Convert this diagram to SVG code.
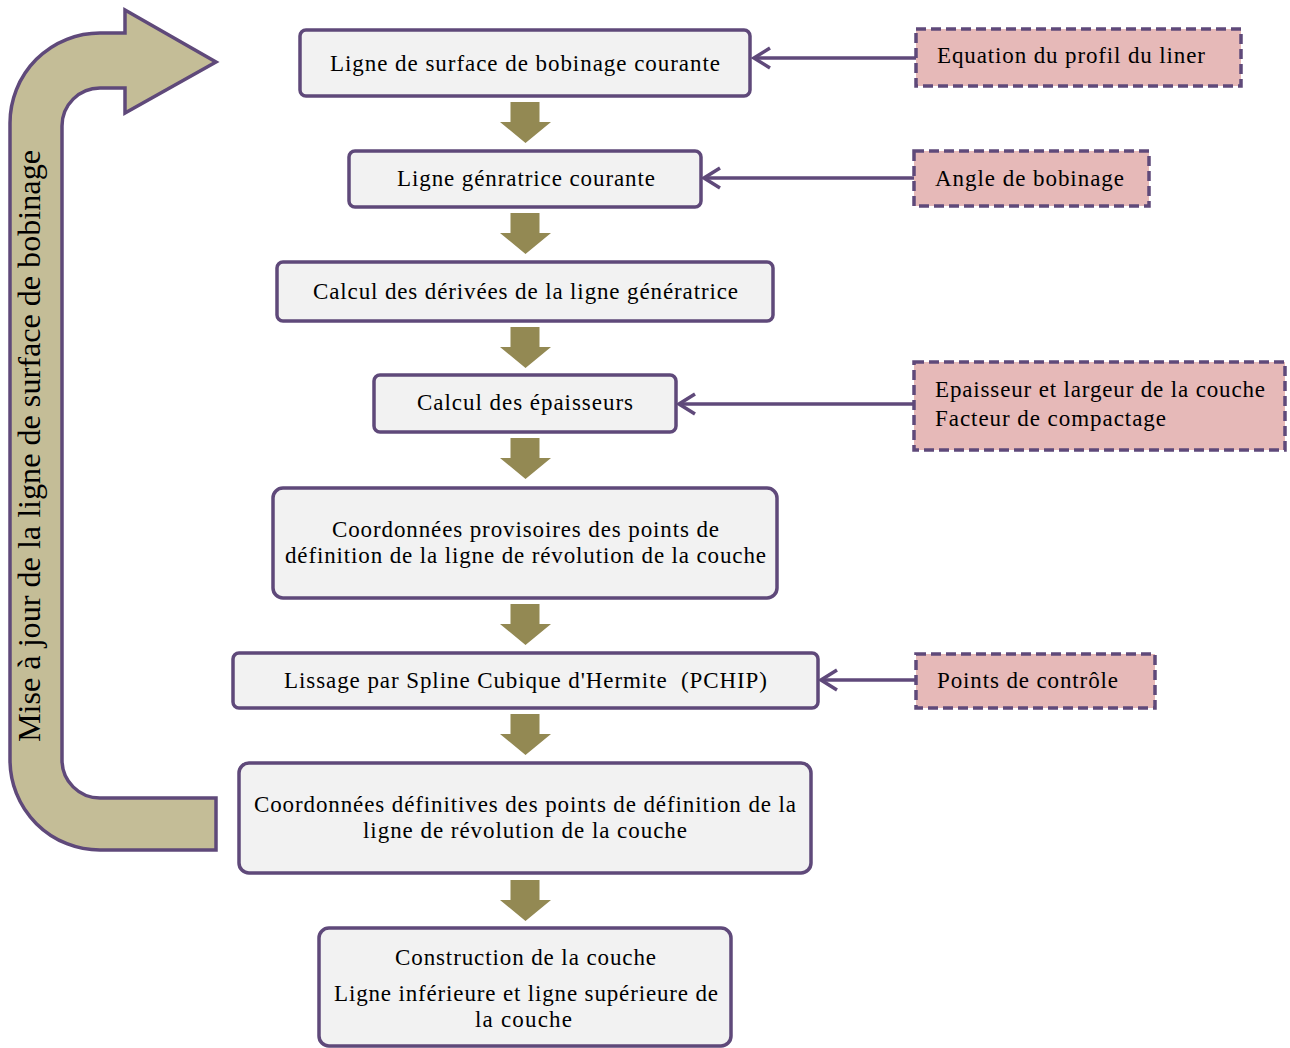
<svg xmlns="http://www.w3.org/2000/svg" width="1290" height="1048" viewBox="0 0 1290 1048">
<style>
.box{fill:#f2f2f2;stroke:#5f497a;stroke-width:3.5}
.side{fill:#e6b9b8;stroke:#5f497a;stroke-width:3.5;stroke-dasharray:10 5}
.t{font-family:"Liberation Serif",serif;font-size:23px;fill:#000}
.c{text-anchor:middle}
.conn{stroke:#5f497a;stroke-width:3.5;fill:none}
.blk{fill:#938953}
</style>
<defs>
<marker id="chev" viewBox="0 0 22 26" refX="19" refY="13" markerWidth="22" markerHeight="26" markerUnits="userSpaceOnUse" orient="auto">
<path d="M3 3 L19 13 L3 23" fill="none" stroke="#5f497a" stroke-width="3.5"/>
</marker>
<path id="barrow" d="M-14.5 0 H14.5 V20 H26 L0.5 41 L-25 20 H-14.5 Z"/>
</defs>
<rect width="1290" height="1048" fill="#fff"/>

<g id="loop-arrow">
<path d="M216 798 L100 798 A38 38 0 0 1 62 760 L62 126 A38 38 0 0 1 100 88 L125 88 L125 113 L216 62 L125 10 L125 33 L100 33 A90 90 0 0 0 10 123 L10 760 A90 90 0 0 0 100 850 L216 850 Z" fill="#c4bd97" stroke="#5f497a" stroke-width="3.5" stroke-linejoin="miter"/>
<text class="t c" transform="translate(40,446) rotate(-90)" style="font-size:31px" textLength="592" lengthAdjust="spacingAndGlyphs">Mise à jour de la ligne de surface de bobinage</text>
</g>

<g id="connectors">
<line class="conn" x1="916" y1="58" x2="754" y2="58" marker-end="url(#chev)"/>
<line class="conn" x1="914" y1="178" x2="704" y2="178" marker-end="url(#chev)"/>
<line class="conn" x1="914" y1="404" x2="679" y2="404" marker-end="url(#chev)"/>
<line class="conn" x1="916" y1="680" x2="821" y2="680" marker-end="url(#chev)"/>
<g class="blk">
<use href="#barrow" x="525" y="102"/>
<use href="#barrow" x="525" y="213"/>
<use href="#barrow" x="525" y="327"/>
<use href="#barrow" x="525" y="438"/>
<use href="#barrow" x="525" y="604"/>
<use href="#barrow" x="525" y="714"/>
<use href="#barrow" x="525" y="880"/>
</g>
</g>

<g id="n1">
<rect class="box" x="300" y="30" width="450" height="66" rx="6"/>
<text class="t c" x="525" y="71" textLength="390" lengthAdjust="spacing">Ligne de surface de bobinage courante</text>
</g>
<g id="n2">
<rect class="box" x="349" y="151" width="352" height="56" rx="6"/>
<text class="t c" x="526" y="186" textLength="258" lengthAdjust="spacing">Ligne génratrice courante</text>
</g>
<g id="n3">
<rect class="box" x="277" y="262" width="496" height="59" rx="6"/>
<text class="t c" x="525.5" y="299" textLength="425" lengthAdjust="spacing">Calcul des dérivées de la ligne génératrice</text>
</g>
<g id="n4">
<rect class="box" x="374" y="375" width="302" height="57" rx="6"/>
<text class="t c" x="525" y="410" textLength="216" lengthAdjust="spacing">Calcul des épaisseurs</text>
</g>
<g id="n5">
<rect class="box" x="273" y="488" width="504" height="110" rx="10"/>
<text class="t c" x="525.5" y="537" textLength="387" lengthAdjust="spacing">Coordonnées provisoires des points de</text>
<text class="t c" x="525.5" y="563" textLength="481" lengthAdjust="spacing">définition de la ligne de révolution de la couche</text>
</g>
<g id="n6">
<rect class="box" x="233" y="653" width="585" height="55" rx="6"/>
<text class="t c" x="525.5" y="688" textLength="483" lengthAdjust="spacing">Lissage par Spline Cubique d'Hermite&#160; (PCHIP)</text>
</g>
<g id="n7">
<rect class="box" x="239" y="763" width="572" height="110" rx="10"/>
<text class="t c" x="525" y="812" textLength="542" lengthAdjust="spacing">Coordonnées définitives des points de définition de la</text>
<text class="t c" x="525" y="838" textLength="324" lengthAdjust="spacing">ligne de révolution de la couche</text>
</g>
<g id="n8">
<rect class="box" x="319" y="928" width="412" height="118" rx="10"/>
<text class="t c" x="525.5" y="965" textLength="261" lengthAdjust="spacing">Construction de la couche</text>
<text class="t c" x="526" y="1001" textLength="384" lengthAdjust="spacing">Ligne inférieure et ligne supérieure de</text>
<text class="t c" x="523.5" y="1027" textLength="97" lengthAdjust="spacing">la couche</text>
</g>

<g id="s1">
<rect class="side" x="916" y="29" width="325" height="57"/>
<text class="t" x="937" y="63" textLength="268" lengthAdjust="spacing">Equation du profil du liner</text>
</g>
<g id="s2">
<rect class="side" x="914" y="151" width="235" height="55"/>
<text class="t" x="935" y="186" textLength="189" lengthAdjust="spacing">Angle de bobinage</text>
</g>
<g id="s3">
<rect class="side" x="914" y="362" width="371" height="88"/>
<text class="t" x="935" y="397" textLength="330" lengthAdjust="spacing">Epaisseur et largeur de la couche</text>
<text class="t" x="935" y="426" textLength="231" lengthAdjust="spacing">Facteur de compactage</text>
</g>
<g id="s4">
<rect class="side" x="916" y="654" width="239" height="54"/>
<text class="t" x="937" y="688" textLength="181" lengthAdjust="spacing">Points de contrôle</text>
</g>
</svg>
